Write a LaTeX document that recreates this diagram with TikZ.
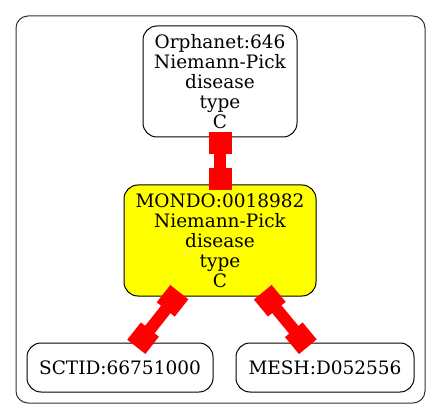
\documentclass[tikz,border=0pt]{standalone}
\usepackage{fontspec}
\setmainfont{DejaVu Serif}
\usetikzlibrary{decorations.markings}
\definecolor{nodeyellow}{RGB}{255,255,0}
\definecolor{edgered}{RGB}{255,0,0}
\tikzset{
  term/.style={draw=black, line width=1pt, rounded corners=14pt, inner sep=0pt,
    align=center, font=\fontsize{18.5}{20}\selectfont},
  redbox/.style={fill=edgered},
  edgeline/.style={draw=edgered, line width=12pt, postaction=decorate,
    decoration={markings,
      mark=at position 5.5pt with {\fill[redbox] (-11pt,-11.5pt) rectangle (11pt,11.5pt);},
      mark=at position -5.5pt with {\fill[redbox] (-11pt,-11.5pt) rectangle (11pt,11.5pt);}}},
  clusterbox/.style={draw=black!80, line width=1pt, rounded corners=12pt}
}
\begin{document}
\begin{tikzpicture}[x=1pt,y=-1pt]
\useasboundingbox (0,0) rectangle (441,419);
\draw[clusterbox] (16,16) rectangle (425,403);
\node[term, minimum width=154pt, minimum height=111pt] (orph) at (220,81.5)
  {Orphanet:646\\Niemann-Pick\\disease\\type\\C};
\node[term, fill=nodeyellow, minimum width=192pt, minimum height=111pt] (mondo) at (220,240.5)
  {MONDO:0018982\\Niemann-Pick\\disease\\type\\C};
\node[term, minimum width=186pt, minimum height=49pt] (sct) at (120,367.5) {SCTID:66751000};
\node[term, minimum width=178pt, minimum height=49pt] (mesh) at (325,367.5) {MESH:D052556};
\draw[edgeline] (orph) -- (mondo);
\draw[edgeline] (mondo) -- (sct);
\draw[edgeline] (mondo) -- (mesh);
\end{tikzpicture}
\end{document}
